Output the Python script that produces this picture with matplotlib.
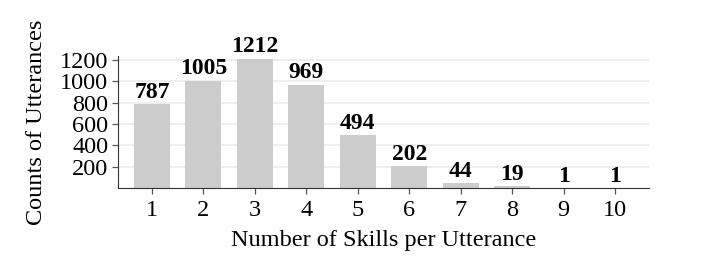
import matplotlib
matplotlib.use('Agg')
import matplotlib.pyplot as plt
import numpy as np

skills = [1, 2, 3, 4, 5, 6, 7, 8, 9, 10]
counts = [787, 1005, 1212, 969, 494, 202, 44, 19, 1, 1]
yticks = [200, 400, 600, 800, 1000, 1200]

plt.rcParams['font.family'] = ['Liberation Serif', 'DejaVu Serif']

fig = plt.figure(figsize=(7.04, 2.61), dpi=100)
ax = fig.add_axes([118 / 704, 1 - 188 / 261, (649 - 118) / 704, (188 - 56) / 261])

ax.bar(skills, counts, width=0.7, color='#cccccc', zorder=2)
for x, v in zip(skills, counts):
    ax.annotate(str(v), (x, v), xytext=(0, 1), textcoords='offset points',
                ha='center', va='bottom', fontsize=17, fontweight='bold', zorder=3,
                annotation_clip=False)

ax.set_xlim(0.34, 10.66)
ax.set_ylim(0, 1237)
ax.set_xticks(skills)
ax.set_yticks(yticks)
ax.tick_params(axis='both', labelsize=17.5, direction='out', length=4, width=0.9,
               color='#555555', pad=3)
ax.tick_params(axis='x', pad=5)
ax.yaxis.grid(True, color='#ebebeb', linewidth=1.2, zorder=0)
ax.set_axisbelow(True)
for s in ['top', 'right']:
    ax.spines[s].set_visible(False)
ax.spines['left'].set_color('#333333')
ax.spines['bottom'].set_color('#333333')

ax.set_xlabel('Number of Skills per Utterance', fontsize=17.5, labelpad=6)
ax.set_ylabel('Counts of Utterances', fontsize=17.5, labelpad=9)

fig.savefig('out.png', dpi=100)
